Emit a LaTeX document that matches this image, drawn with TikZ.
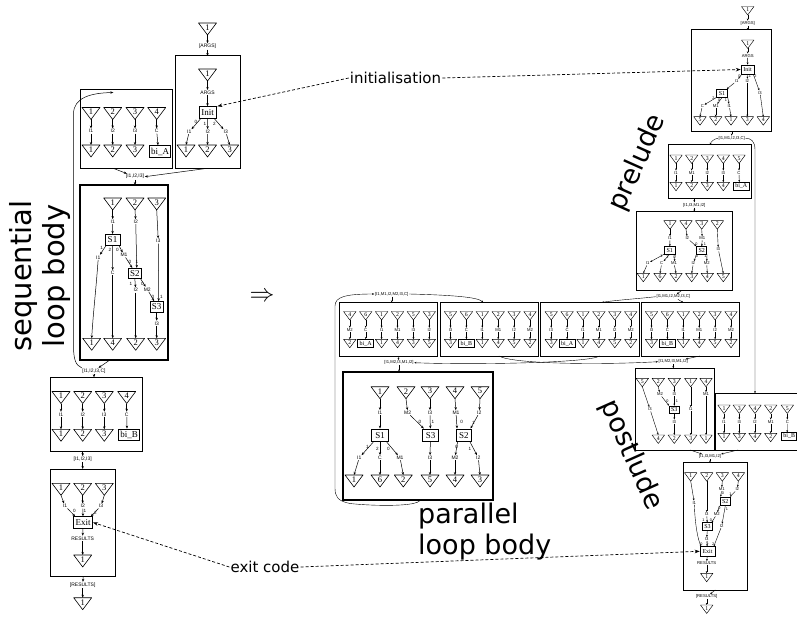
\documentclass[tikz,border=0pt]{standalone}
\usepackage{fontspec}
\setmainfont{Liberation Serif}
\newfontfamily\hv{Liberation Sans}
\newfontfamily\dv{DejaVu Sans}
\usetikzlibrary{arrows.meta,calc}
\newcounter{pc}
\tikzset{
 ar/.style={-{Stealth[length=3pt,width=2.4pt]},line width=0.5pt},
 sar/.style={-{Stealth[length=2.2pt,width=1.8pt]},line width=0.4pt},
 dar/.style={-{Stealth[length=5pt,width=3.6pt]},line width=0.7pt,dash pattern=on 3pt off 2pt},
 tline/.style={line width=0.6pt,line join=round},
 tsline/.style={line width=0.45pt,line join=round},
 tnumL/.style={font=\fontsize{8.5}{8.5}\selectfont,inner sep=0pt},
 tnumS/.style={font=\fontsize{5.8}{5.8}\selectfont,inner sep=0pt},
 lb/.style={font=\hv\fontsize{5}{5}\selectfont,inner sep=0.6pt},
 lbs/.style={font=\hv\fontsize{4.2}{4.2}\selectfont,inner sep=0.5pt},
 port/.style={font=\hv\fontsize{4.6}{4.6}\selectfont,inner sep=0pt},
 ports/.style={font=\hv\fontsize{3.8}{3.8}\selectfont,inner sep=0pt},
 op/.style={draw,line width=0.8pt,inner sep=0pt,font=\fontsize{9}{9}\selectfont},
 opS/.style={draw,line width=0.6pt,inner sep=0pt,font=\fontsize{6}{6}\selectfont},
 frame/.style={draw,line width=1pt,inner sep=0pt,outer sep=0pt},
 big/.style={font=\dv\fontsize{27}{31}\selectfont,inner sep=0pt},
 mid/.style={font=\dv\fontsize{15}{15}\selectfont,inner sep=1pt},
}
\newcommand\frm[6][]{%
 \pgfmathsetmacro\fw{(#5)-(#3)}%
 \pgfmathsetmacro\fh{(#6)-(#4)}%
 \pgfmathsetmacro\fx{((#3)+(#5))/2}%
 \pgfmathsetmacro\fy{((#4)+(#6))/2}%
 \node[frame,minimum width=\fw pt,minimum height=\fh pt,#1] (#2) at (\fx,\fy) {};}
\newcommand\trL[4]{%
 \draw[tline] ({(#2)-9},#3) -- ({(#2)+9},#3) -- (#2,{(#3)+12}) -- cycle;
 \coordinate (#1t) at (#2,#3);
 \coordinate (#1b) at (#2,{(#3)+12});
 \node[tnumL] (#1) at (#2,{(#3)+4.5}) {#4};}
\newcommand\trS[4]{%
 \draw[tsline] ({(#2)-6.25},#3) -- ({(#2)+6.25},#3) -- (#2,{(#3)+8.5}) -- cycle;
 \coordinate (#1t) at (#2,#3);
 \coordinate (#1b) at (#2,{(#3)+8.5});
 \node[tnumS] (#1) at (#2,{(#3)+3.2}) {#4};}
\newcommand\prt[3]{\stepcounter{pc}\node[port] (pt\arabic{pc}) at (#1,#2) {#3};}
\newcommand\prs[3]{\stepcounter{pc}\node[ports] (pt\arabic{pc}) at (#1,#2) {#3};}
\newcommand\panel[4]{%
 \frm{#1box}{#2}{302.5}{(#2)+98.5}{356}
 \foreach \tn/\lab/\bn [count=\i] in {#3}{
   \pgfmathsetmacro\px{(#2)+10.5+15.9*(\i-1)}
   \trS{#1t\i}{\px}{311.5}{\tn}
   \node[lbs] (#1l\i) at (\px,330) {\lab};
   \draw[sar] (#1t\i b) -- (#1l\i);
   \ifnum\i=2
     \node[opS,minimum width=16pt,minimum height=8pt] (#1bi) at (\px,343.5) {#4};
     \draw[sar] (#1l\i) -- (#1bi);
   \else
     \trS{#1o\i}{\px}{339.3}{\bn}
     \draw[sar] (#1l\i) -- (#1o\i t);
   \fi
 }}
\begin{document}
\begin{tikzpicture}[x=1pt,y=-1pt]
\fill[white] (0,0) rectangle (797,617);
\useasboundingbox (0,0) rectangle (797,617);

%================ LEFT: initialisation
\trL{Ar}{207.5}{23}{1}
\node[lb] (Aargs) at (207.5,46.5) {[ARGS]};
\frm{Abox}{175}{56}{240}{168.3}
\draw[ar] (Arb) -- (Aargs);
\draw[ar] (Aargs) -- (Abox.north);
\trL{Ai}{207.5}{69}{1}
\node[lb] (Aa) at (207.5,92.5) {ARGS};
\node[op,minimum width=17pt,minimum height=11.7pt] (Ainit) at (207.5,112.5) {Init};
\draw[ar] (Aib) -- (Aa);
\draw[ar] (Aa) -- (Ainit);
\node[lb] (AI1) at (189.3,131.7) {I1};
\node[lb] (AI2) at (207.7,131.7) {I2};
\node[lb] (AI3) at (225.7,131.7) {I3};
\draw[ar] ([xshift=2pt]Ainit.south west) -- (AI1);
\draw[ar] (Ainit.south) -- (AI2);
\draw[ar] ([xshift=-2pt]Ainit.south east) -- (AI3);
\prt{196}{121.5}{0}\prt{205}{123.5}{1}\prt{214.5}{123.5}{2}
\trL{Ao1}{186}{145}{1}\trL{Ao2}{207.5}{145}{2}\trL{Ao3}{229.7}{145}{3}
\draw[ar] (AI1) -- (Ao1t);
\draw[ar] (AI2) -- (Ao2t);
\draw[ar] (AI3) -- (Ao3t);

%================ LEFT: bi_A
\frm{Bbox}{80}{90}{172.3}{168.3}
\trL{Bt1}{91}{107.5}{1}\trL{Bt2}{112.7}{107.5}{2}\trL{Bt3}{135}{107.5}{3}\trL{Bt4}{156.7}{107.5}{4}
\node[lb] (BI1) at (91,131) {I1};
\node[lb] (BI2) at (112.7,131) {I2};
\node[lb] (BI3) at (135,131) {I3};
\node[lb] (BC) at (156.7,131) {C};
\trL{Bo1}{91}{145}{1}\trL{Bo2}{112.7}{145}{2}\trL{Bo3}{135}{145}{3}
\node[op,minimum width=21.7pt,minimum height=11.6pt] (BbiA) at (160,151.5) {bi\_A};
\draw[ar] (Bt1b) -- (BI1); \draw[ar] (BI1) -- (Bo1t);
\draw[ar] (Bt2b) -- (BI2); \draw[ar] (BI2) -- (Bo2t);
\draw[ar] (Bt3b) -- (BI3); \draw[ar] (BI3) -- (Bo3t);
\draw[ar] (Bt4b) -- (BC); \draw[ar] (BC) -- ([xshift=-2pt]BbiA.north);
\coordinate (Bin) at (113.3,92.5);

\node[lb] (J1) at (135,176.7) {[I1,I2,I3]};
\draw[ar] ([xshift=-13pt]Bbox.south) -- (J1);
\draw[ar] (Abox.south) -- (J1.east);

%================ LEFT: sequential loop body
\frm[line width=2.2pt]{Sbox}{80}{185}{167.7}{360}
\draw[ar] (J1) -- (J1 |- Sbox.north);
\trL{St1}{112.7}{198}{1}\trL{St2}{135}{198}{2}\trL{St3}{156.7}{198}{3}
\node[lb] (SI1a) at (112.7,221.7) {I1};
\node[lb] (SI2a) at (135.7,221.7) {I2};
\node[lb] (SI3a) at (158.3,241) {I3};
\node[op,minimum width=15pt,minimum height=10.7pt] (SS1) at (112.5,239.7) {S1};
\prt{101.7}{247.7}{1}\prt{110}{250.3}{2}\prt{117.5}{250.3}{0}
\node[lb] (SI1b) at (98.3,257.3) {I1};
\node[lb] (SM1) at (124,255) {M1};
\node[lb] (SC) at (112.7,272.7) {C};
\node[op,minimum width=13.7pt,minimum height=10pt] (SS2) at (134.8,273.3) {S2};
\prt{130}{261.5}{0}\prt{137}{261.5}{1}
\prt{131}{283.5}{1}\prt{142.3}{284}{0}
\node[lb] (SI2b) at (135.7,290) {I2};
\node[lb] (SM2) at (147.3,289.3) {M2};
\node[op,minimum width=13.3pt,minimum height=10.7pt] (SS3) at (156.7,307) {S3};
\prt{153}{296.5}{0}\prt{161.5}{296.5}{1}
\node[lb] (SI3b) at (156.7,323.3) {I3};
\trL{Sb1}{91.7}{338.3}{1}\trL{Sb2}{112.7}{338.3}{4}\trL{Sb3}{135.7}{338.3}{2}\trL{Sb4}{156.7}{338.3}{3}
\draw[ar] (St1b) -- (SI1a); \draw[ar] (SI1a) -- (SS1);
\draw[ar] (St2b) -- (SI2a); \draw[ar] (SI2a) -- ([xshift=2pt]SS2.north);
\draw[ar] (St3b) -- (SI3a); \draw[ar] (SI3a) -- ([xshift=2pt]SS3.north);
\draw[ar] ([xshift=1.5pt]SS1.south west) -- (SI1b);
\draw[ar] (SI1b) .. controls (96,290) and (93,315) .. (Sb1t);
\draw[ar] (SS1.south) -- (SC); \draw[ar] (SC) -- (Sb2t);
\draw[ar] ([xshift=-1.5pt]SS1.south east) -- (SM1); \draw[ar] (SM1) -- ([xshift=-2.5pt]SS2.north);
\draw[ar] (SS2.south) -- (SI2b); \draw[ar] (SI2b) -- (Sb3t);
\draw[ar] ([xshift=-1.5pt]SS2.south east) -- (SM2); \draw[ar] (SM2) -- ([xshift=-2.5pt]SS3.north);
\draw[ar] (SS3) -- (SI3b); \draw[ar] (SI3b) -- (Sb4t);

\node[lb] (J2) at (94,371) {[I1,I2,I3,C]};
\draw[ar] ([xshift=-14pt]Sbox.south) -- (J2);
\draw[ar] (J2.north west) .. controls (75,365) and (73.5,358) .. (73.5,345) -- (73.5,114) .. controls (73.5,97) and (92,93) .. (Bin);

%================ LEFT: bi_B
\frm{Cbox}{50.7}{377.3}{142.3}{451.7}
\draw[ar] (J2) -- (J2 |- Cbox.north);
\trL{Ct1}{61}{391.5}{1}\trL{Ct2}{82.7}{391.5}{2}\trL{Ct3}{104.3}{391.5}{3}\trL{Ct4}{126.7}{391.5}{4}
\node[lb] (CI1) at (61,414.3) {I1};
\node[lb] (CI2) at (82.7,414.3) {I2};
\node[lb] (CI3) at (104.3,414.3) {I3};
\node[lb] (CC) at (126.7,414.3) {C};
\trL{Co1}{61}{429.3}{1}\trL{Co2}{82.7}{429.3}{2}\trL{Co3}{104.3}{429.3}{3}
\node[op,minimum width=20.6pt,minimum height=11pt] (CbiB) at (129,434.5) {bi\_B};
\draw[ar] (Ct1b) -- (CI1); \draw[ar] (CI1) -- (Co1t);
\draw[ar] (Ct2b) -- (CI2); \draw[ar] (CI2) -- (Co2t);
\draw[ar] (Ct3b) -- (CI3); \draw[ar] (CI3) -- (Co3t);
\draw[ar] (Ct4b) -- (CC); \draw[ar] (CC) -- ([xshift=-2pt]CbiB.north);
\node[lb] (J3) at (82.7,459.3) {[I1,I2,I3]};
\draw[ar] ([xshift=-13.8pt]Cbox.south) -- (J3);

%================ LEFT: exit
\frm{Ebox}{50.7}{469}{115.7}{576.7}
\draw[ar] (J3) -- (J3 |- Ebox.north);
\trL{Et1}{61}{483.3}{1}\trL{Et2}{82.7}{483.3}{2}\trL{Et3}{104.3}{483.3}{3}
\node[lb] (EI1) at (65,506) {I1};
\node[lb] (EI2) at (82.7,506) {I2};
\node[lb] (EI3) at (101,506) {I3};
\prt{74.5}{511}{0}\prt{85}{510.5}{1}\prt{95.5}{513}{2}
\node[op,minimum width=19.4pt,minimum height=11.6pt] (Eexit) at (83,522.5) {Exit};
\node[lb] (ERes) at (82.7,538.3) {RESULTS};
\trL{Etr}{82.7}{555}{1}
\node[lb] (J4) at (82.7,585) {[RESULTS]};
\trL{Ef}{82.7}{597.7}{1}
\draw[ar] (Et1b) -- (EI1); \draw[ar] (EI1) -- ([xshift=2.2pt]Eexit.north west);
\draw[ar] (Et2b) -- (EI2); \draw[ar] (EI2) -- (Eexit.north);
\draw[ar] (Et3b) -- (EI3); \draw[ar] (EI3) -- ([xshift=-2.2pt]Eexit.north east);
\draw[ar] (Eexit) -- (ERes); \draw[ar] (ERes) -- (Etrt);
\draw[ar] (Ebox.south) -- (J4); \draw[ar] (J4) -- (Eft);

%================ RIGHT: initialisation
\trS{Rr}{747.7}{6.5}{1}
\node[lbs] (Rargs) at (747.7,23.3) {[ARGS]};
\frm{Rbox}{691.7}{30}{771.7}{131.7}
\draw[sar] (Rrb) -- (Rargs);
\draw[sar] (Rargs) -- (Rargs |- Rbox.north);
\trS{Ri}{747.7}{40}{1}
\node[lbs] (RA) at (747.7,55.7) {ARGS};
\node[opS,minimum width=13pt,minimum height=9pt] (Rinit) at (747.5,69.5) {Init};
\draw[sar] (Rib) -- (RA); \draw[sar] (RA) -- (Rinit);
\node[lbs] (RI1) at (736.7,81) {I1};
\node[lbs] (RI2) at (747.3,81) {I2};
\node[lbs] (RI3) at (760,92.7) {I3};
\draw[sar] ([xshift=1pt]Rinit.south west) -- (RI1);
\draw[sar] (Rinit.south) -- (RI2);
\draw[sar] ([xshift=-1pt]Rinit.south east) -- (RI3);
\prs{739.5}{76}{0}\prs{749.8}{76.5}{1}\prs{755.5}{76}{2}
\node[opS,minimum width=11pt,minimum height=8pt] (RS1) at (722,93.3) {S1};
\draw[sar] (RI1) -- ([xshift=-1pt]RS1.north east);
\node[lbs] (RC) at (702.3,106) {C};
\node[lbs] (RM1) at (715.7,106) {M1};
\node[lbs] (RI1b) at (729.3,106) {I1};
\draw[sar] (RS1.south west) -- (RC);
\draw[sar] (RS1.south) -- (RM1);
\draw[sar] (RS1.south east) -- (RI1b);
\prs{713.5}{98.3}{2}\prs{719.2}{100.3}{0}\prs{725.8}{100.3}{1}
\trS{Ro1}{700}{116.7}{5}\trS{Ro2}{715.7}{116.7}{2}\trS{Ro3}{731}{116.7}{1}\trS{Ro4}{747.3}{116.7}{3}\trS{Ro5}{763.3}{116.7}{4}
\draw[sar] (RC) -- (Ro1t);
\draw[sar] (RM1) -- (Ro2t);
\draw[sar] (RI1b) -- (Ro3t);
\draw[sar] (RI2) -- (Ro4t);
\draw[sar] (RI3) -- (Ro5t);
\node[lbs] (J5) at (731.7,138.3) {[I1,M1,I2,I3,C]};
\draw[sar] (Rbox.south) -- (J5);

%================ RIGHT: prelude bi_A
\frm{Pbox}{668.3}{145}{751.7}{199}
\trS{Pt1}{676}{155}{1}\trS{Pt2}{691.7}{155}{2}\trS{Pt3}{707.3}{155}{3}\trS{Pt4}{723.3}{155}{4}\trS{Pt5}{739}{155}{5}
\node[lbs] (PI1) at (676,172.7) {I1};
\node[lbs] (PM1) at (691.7,172.7) {M1};
\node[lbs] (PI2) at (707.3,172.7) {I2};
\node[lbs] (PI3) at (723.3,172.7) {I3};
\node[lbs] (PC) at (739,172.7) {C};
\trS{Po1}{676}{182.3}{1}\trS{Po2}{691.7}{182.3}{2}\trS{Po3}{707.3}{182.3}{3}\trS{Po4}{723.3}{182.3}{4}
\node[opS,minimum width=16pt,minimum height=7.7pt] (PbiA) at (741.3,186.2) {bi\_A};
\draw[sar] (Pt1b) -- (PI1); \draw[sar] (PI1) -- (Po1t);
\draw[sar] (Pt2b) -- (PM1); \draw[sar] (PM1) -- (Po2t);
\draw[sar] (Pt3b) -- (PI2); \draw[sar] (PI2) -- (Po3t);
\draw[sar] (Pt4b) -- (PI3); \draw[sar] (PI3) -- (Po4t);
\draw[sar] (Pt5b) -- (PC); \draw[sar] (PC) -- ([xshift=-2pt]PbiA.north);
\draw[sar] (J5.west) .. controls (714,139) and (711,141.5) .. (Pbox.north);
\node[lbs] (J6) at (694.3,205) {[I1,I3,M1,I2]};
\draw[sar] ([xshift=-15.7pt]Pbox.south) -- (J6);

%================ RIGHT: prelude S1 S2
\frm{Qbox}{636.7}{211.7}{732.7}{291}
\draw[sar] (J6) -- (J6 |- Qbox.north);
\trS{Qt1}{670}{220.7}{1}\trS{Qt2}{686}{220.7}{4}\trS{Qt3}{701.7}{220.7}{3}\trS{Qt4}{717.3}{220.7}{2}
\node[lbs] (QI1) at (670,238.3) {I1};
\node[lbs] (QI2) at (687.3,238.3) {I2};
\node[lbs] (QM1) at (702.3,238.3) {M1};
\node[lbs] (QI3) at (718.3,249.3) {I3};
\node[opS,minimum width=10.7pt,minimum height=7.3pt] (QS1) at (669.7,250.3) {S1};
\node[opS,minimum width=10pt,minimum height=7.3pt] (QS2) at (701.7,250.3) {S2};
\prs{696.5}{244.5}{0}\prs{705}{244.5}{1}
\prs{661.5}{256}{1}\prs{667.5}{257.3}{2}\prs{674.5}{257.3}{0}
\prs{697}{256.5}{0}\prs{705.5}{256.5}{1}
\node[lbs] (QI1b) at (647.7,263.3) {I1};
\node[lbs] (QC) at (661.7,263.3) {C};
\node[lbs] (QM1b) at (674,263.3) {M1};
\node[lbs] (QI2b) at (693.3,263.3) {I2};
\node[lbs] (QM2) at (706.7,263.3) {M2};
\trS{Qo1}{643.3}{273.3}{1}\trS{Qo2}{660}{273.3}{6}\trS{Qo3}{676}{273.3}{2}\trS{Qo4}{691.7}{273.3}{3}\trS{Qo5}{707.3}{273.3}{4}\trS{Qo6}{723.3}{273.3}{5}
\draw[sar] (Qt1b) -- (QI1); \draw[sar] (QI1) -- (QS1);
\draw[sar] (Qt2b) -- (QI2); \draw[sar] (QI2) -- (QS2.north west);
\draw[sar] (Qt3b) -- (QM1); \draw[sar] (QM1) -- (QS2.north);
\draw[sar] (Qt4b) -- (QI3); \draw[sar] (QI3) -- (Qo6t);
\draw[sar] (QS1.south west) -- (QI1b); \draw[sar] (QI1b) -- (Qo1t);
\draw[sar] (QS1.south) -- (QC); \draw[sar] (QC) -- (Qo2t);
\draw[sar] (QS1.south east) -- (QM1b); \draw[sar] (QM1b) -- (Qo3t);
\draw[sar] (QS2.south west) -- (QI2b); \draw[sar] (QI2b) -- (Qo4t);
\draw[sar] (QS2.south east) -- (QM2); \draw[sar] (QM2) -- (Qo5t);
\node[lbs] (J7) at (673.3,296.7) {[I1,M1,I2,M2,I3,C]};
\draw[sar] ([xshift=-3.7pt]Qbox.south) -- (J7);

%================ PANELS
\panel{Ua}{339.3}{4/M2/2,6/C/0,1/I1/1,2/M1/4,5/I3/3,3/I2/5}{bi\_A}
\panel{Ub}{440}{5/I3/3,6/C/0,1/I1/1,2/M1/4,3/I2/5,4/M2/2}{bi\_B}
\panel{Va}{540.7}{5/I3/3,6/C/0,1/I1/1,2/M1/4,3/I2/5,4/M2/2}{bi\_A}
\panel{Vb}{641}{5/I3/3,6/C/0,1/I1/1,2/M1/4,3/I2/5,4/M2/2}{bi\_B}
\node[lbs] (J8) at (391.7,294) {[I1,M1,I2,M2,I3,C]};
\draw[sar] (J8) -- (J8 |- Uabox.north);
\draw[sar] (J8.east) .. controls (450,295) and (478,297) .. ([xshift=-6pt]Ubbox.north);
\draw[sar] (J7.west) .. controls (640,298.5) and (612,300.5) .. ([xshift=11.7pt]Vabox.north);
\draw[sar] (J7) -- ([xshift=-7pt]Vbbox.north);
\node[lbs] (J9) at (399,362.7) {[I1,M2,I3,M1,I2]};
\node[lbs] (J10) at (673.3,361.7) {[I1,M2,I3,M1,I2]};
\draw[sar] ([xshift=9.7pt]Uabox.south) -- (J9);
\draw[sar] ([xshift=9.7pt]Vabox.south) .. controls (590,363) and (470,365) .. (J9.east);
\draw[sar] ([xshift=9.7pt]Ubbox.south) .. controls (512,364) and (600,365) .. (J10.west);
\draw[sar] ([xshift=9.7pt]Vbbox.south) -- (J10);

%================ parallel loop body
\frm[line width=2.2pt]{Mbox}{343.3}{371.7}{492.7}{500}
\draw[sar] (J9) -- (J9 |- Mbox.north);
\trL{Mt1}{380}{386.7}{1}\trL{Mt2}{406}{386.7}{2}\trL{Mt3}{430}{386.7}{3}\trL{Mt4}{455}{386.7}{4}\trL{Mt5}{480}{386.7}{5}
\node[lb] (MI1) at (380,412.7) {I1};
\node[lb] (MM2) at (407.7,412.7) {M2};
\node[lb] (MI3) at (430,412.7) {I3};
\node[lb] (MM1) at (456,412.7) {M1};
\node[lb] (MI2) at (479.3,412.7) {I2};
\node[op,minimum width=16.6pt,minimum height=12.7pt] (MS1) at (380,435.3) {S1};
\node[op,minimum width=15.6pt,minimum height=12.7pt] (MS3) at (430.5,435.3) {S3};
\node[op,minimum width=15.7pt,minimum height=12.7pt] (MS2) at (463.8,435.3) {S2};
\prt{420}{422}{0}\prt{433}{422}{1}\prt{461.7}{422}{0}\prt{473.3}{423.3}{1}
\prt{367.3}{447.3}{1}\prt{377.3}{448.5}{2}\prt{388.3}{448.5}{0}
\prt{456.7}{446.5}{0}\prt{470}{449.3}{1}
\node[lb] (MI1b) at (359.3,457.7) {I1};
\node[lb] (MC) at (380,457.7) {C};
\node[lb] (MM1b) at (400,457.7) {M1};
\node[lb] (MI3b) at (430,457.7) {I3};
\node[lb] (MM2b) at (455,457.7) {M2};
\node[lb] (MI2b) at (478.3,457.7) {I2};
\trL{Mo1}{354}{475}{1}\trL{Mo2}{380}{475}{6}\trL{Mo3}{403.3}{475}{2}\trL{Mo4}{430}{475}{5}\trL{Mo5}{455}{475}{4}\trL{Mo6}{480}{475}{3}
\draw[ar] (Mt1b) -- (MI1); \draw[ar] (MI1) -- (MS1);
\draw[ar] (Mt2b) -- (MM2); \draw[ar] (MM2) -- ([xshift=1.5pt]MS3.north west);
\draw[ar] (Mt3b) -- (MI3); \draw[ar] (MI3) -- (MS3);
\draw[ar] (Mt4b) -- (MM1); \draw[ar] (MM1) -- ([xshift=1.5pt]MS2.north west);
\draw[ar] (Mt5b) -- (MI2); \draw[ar] (MI2) -- ([xshift=-1.5pt]MS2.north east);
\draw[ar] ([xshift=2pt]MS1.south west) -- (MI1b); \draw[ar] (MI1b) -- (Mo1t);
\draw[ar] (MS1.south) -- (MC); \draw[ar] (MC) -- (Mo2t);
\draw[ar] ([xshift=-2pt]MS1.south east) -- (MM1b); \draw[ar] (MM1b) -- (Mo3t);
\draw[ar] (MS3) -- (MI3b); \draw[ar] (MI3b) -- (Mo4t);
\draw[ar] ([xshift=2pt]MS2.south west) -- (MM2b); \draw[ar] (MM2b) -- (Mo5t);
\draw[ar] ([xshift=-2pt]MS2.south east) -- (MI2b); \draw[ar] (MI2b) -- (Mo6t);
\draw[sar] ([xshift=2pt]Mbox.south) .. controls (418,507) and (372,506) .. (350,503.5) .. controls (337,501) and (335,496) .. (335,488) -- (335,306) .. controls (335,297) and (345,294) .. (J8.west);

%================ postlude P1
\frm{Xbox}{635}{368.3}{714.3}{450}
\draw[sar] (J10) -- (J10 |- Xbox.north);
\trS{Xt1}{642.3}{378.3}{5}\trS{Xt2}{658.3}{378.3}{2}\trS{Xt3}{674.3}{378.3}{3}\trS{Xt4}{690.7}{378.3}{1}\trS{Xt5}{706}{378.3}{4}
\node[lbs] (XI3a) at (650,409.3) {I3};
\node[lbs] (XM2) at (660,394.3) {M2};
\node[lbs] (XI3b) at (674.3,394.3) {I3};
\node[lbs] (XI1) at (690.7,409.3) {I1};
\node[lbs] (XM1) at (706,394.3) {M1};
\node[opS,minimum width=10pt,minimum height=7.3pt] (XS3) at (674.3,409.7) {S3};
\prs{667.5}{401.5}{0}\prs{676.8}{401.5}{1}
\node[lbs] (XI3c) at (674.3,421.7) {I3};
\trS{Xo1}{658.3}{435}{4}\trS{Xo2}{674.3}{435}{2}\trS{Xo3}{690.7}{435}{3}\trS{Xo4}{706}{435}{1}
\draw[sar] (Xt1b) -- (XI3a); \draw[sar] (XI3a) -- (Xo1t);
\draw[sar] (Xt2b) -- (XM2); \draw[sar] (XM2) -- (XS3.north west);
\draw[sar] (Xt3b) -- (XI3b); \draw[sar] (XI3b) -- (XS3);
\draw[sar] (XS3) -- (XI3c); \draw[sar] (XI3c) -- (Xo2t);
\draw[sar] (Xt4b) -- (XI1); \draw[sar] (XI1) -- (Xo3t);
\draw[sar] (Xt5b) -- (XM1); \draw[sar] (XM1) -- (Xo4t);

%================ postlude P2
\frm{Ybox}{715.5}{393.3}{799}{450}
\trS{Yt1}{724}{405}{1}\trS{Yt2}{739.3}{405}{3}\trS{Yt3}{755}{405}{4}\trS{Yt4}{770.7}{405}{2}\trS{Yt5}{787.3}{405}{5}
\node[lbs] (YI1) at (724,421.7) {I1};
\node[lbs] (YI3) at (739.3,421.7) {I3};
\node[lbs] (YI2) at (755,421.7) {I2};
\node[lbs] (YM1) at (770.7,421.7) {M1};
\node[lbs] (YC) at (787.3,421.7) {C};
\trS{Yo1}{724}{433.3}{1}\trS{Yo2}{739.3}{433.3}{3}\trS{Yo3}{755}{433.3}{4}\trS{Yo4}{770.7}{433.3}{2}
\node[opS,minimum width=15pt,minimum height=7.3pt] (YbiB) at (789.2,436.3) {bi\_B};
\draw[sar] (Yt1b) -- (YI1); \draw[sar] (YI1) -- (Yo1t);
\draw[sar] (Yt2b) -- (YI3); \draw[sar] (YI3) -- (Yo2t);
\draw[sar] (Yt3b) -- (YI2); \draw[sar] (YI2) -- (Yo3t);
\draw[sar] (Yt4b) -- (YM1); \draw[sar] (YM1) -- (Yo4t);
\draw[sar] (Yt5b) -- (YC); \draw[sar] (YC) -- ([xshift=-2pt]YbiB.north);
\draw[sar] (J5.east) .. controls (751,138.3) and (755,141) .. (755,150) -- ([xshift=-2.25pt]Ybox.north);
\node[lbs] (J11) at (710,456.7) {[I1,I3,M1,I2]};
\draw[sar] ([xshift=15.35pt]Xbox.south) -- (J11);
\draw[sar] ([xshift=-19.25pt]Ybox.south) -- (J11);

%================ postlude exit
\frm{Zbox}{683.3}{462.7}{747.3}{590}
\draw[sar] (J11) -- (J11 |- Zbox.north);
\trS{Zt1}{690.7}{472.7}{1}\trS{Zt2}{706.7}{472.7}{2}\trS{Zt3}{722.3}{472.7}{3}\trS{Zt4}{738.3}{472.7}{4}
\node[lbs] (ZI1) at (694.3,502.7) {I1};
\node[lbs] (ZM1) at (721.7,489.3) {M1};
\node[lbs] (ZI2) at (737.3,489.3) {I2};
\node[opS,minimum width=10.7pt,minimum height=8.5pt] (ZS2) at (725.3,501.3) {S2};
\prs{723}{493.3}{0}\prs{730.5}{493.8}{1}
\prs{719.5}{508.3}{0}\prs{727}{508.8}{1}
\node[lbs] (ZI3a) at (706.7,514.3) {I3};
\node[lbs] (ZM2) at (716.7,514.3) {M2};
\node[opS,minimum width=9.7pt,minimum height=8pt] (ZS3) at (707.5,526.7) {S3};
\prs{703.5}{520}{1}\prs{710.8}{520}{0}
\node[lbs] (ZI2b) at (721.7,526) {I2};
\node[lbs] (ZI3b) at (706.7,539.3) {I3};
\node[opS,minimum width=15pt,minimum height=9.3pt] (ZExit) at (707.5,551.3) {Exit};
\prs{701.5}{544}{0}\prs{707.6}{543.6}{1}\prs{713.2}{544}{2}
\node[lbs] (ZRes) at (706.7,563.3) {RESULTS};
\trS{Ztr}{706.7}{573.3}{1}
\node[lbs] (J12) at (706.7,596.7) {[RESULTS]};
\trS{Zf}{706.7}{605}{1}
\draw[sar] (Zt1b) -- (ZI1); \draw[sar] (ZI1) .. controls (695,525) and (698,540) .. ([xshift=1.5pt]ZExit.north west);
\draw[sar] (Zt2b) -- (ZI3a); \draw[sar] (ZI3a) -- (ZS3);
\draw[sar] (Zt3b) -- (ZM1); \draw[sar] (ZM1) -- ([xshift=1pt]ZS2.north west);
\draw[sar] (Zt4b) -- (ZI2); \draw[sar] (ZI2) -- ([xshift=-1pt]ZS2.north east);
\draw[sar] (ZS2.south west) -- (ZM2); \draw[sar] (ZM2) -- ([xshift=-1pt]ZS3.north east);
\draw[sar] (ZS2.south) -- (ZI2b); \draw[sar] (ZI2b) -- ([xshift=-1.5pt]ZExit.north east);
\draw[sar] (ZS3) -- (ZI3b); \draw[sar] (ZI3b) -- (ZExit);
\draw[sar] (ZExit) -- (ZRes); \draw[sar] (ZRes) -- (Ztrt);
\draw[sar] (Zbox.south) -- (J12); \draw[sar] (J12) -- (Zft);

%================ annotations
\node[mid] (tinit) at (395.5,78) {initialisation};
\draw[dar] (tinit.west) -- ([xshift=1pt]Ainit.north east);
\draw[dar] (tinit.east) -- (Rinit.west);
\node[mid] (texit) at (265,567) {exit code};
\draw[dar] (texit.west) -- (Eexit.east);
\draw[dar] (texit.east) -- (ZExit.west);

\node[big,font=\dv\fontsize{29}{33}\selectfont,rotate=90,align=center] (tseq) at (40,276) {sequential\\loop body};
\node[big,align=left,anchor=north west] (tpar) at (418,503) {parallel\\loop body};
\node[big,rotate=66] (tpre) at (638,163) {prelude};
\node[big,rotate=-66] (tpost) at (631,455) {postlude};
\node[font=\fontsize{36}{36}\selectfont,inner sep=0pt] (timp) at (262,297) {$\Rightarrow$};
\end{tikzpicture}
\end{document}
